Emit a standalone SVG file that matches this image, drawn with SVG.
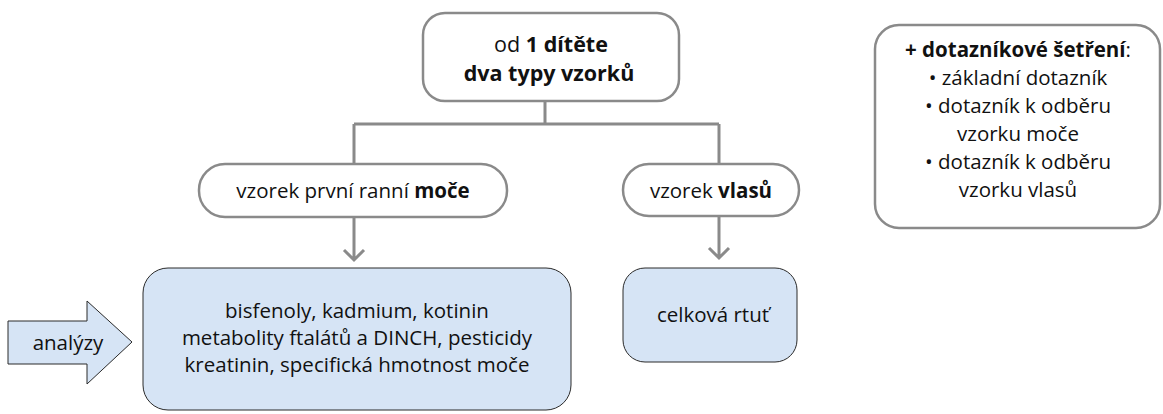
<svg xmlns="http://www.w3.org/2000/svg" width="1163" height="414" viewBox="0 0 1163 414">
<style>
.box{fill:#fff;stroke:#8a8a8a;stroke-width:2.5}
.blue{fill:#d6e4f5;stroke:#2a2a2a;stroke-width:1}
.conn{fill:none;stroke:#8a8a8a;stroke-width:3}
text{font-family:"Open Sans","Noto Sans","Liberation Sans",sans-serif;font-size:20.5px;fill:#111;text-anchor:middle}
.b{font-weight:bold}
.big{font-size:21.5px}
</style>
<rect width="1163" height="414" fill="#fff"/>
<g id="connectors">
<path class="conn" d="M545 101V124M354 124H719M354 124V164M719 124V164"/>
<path class="conn" d="M354 217V260M344 250L354 260L364 250"/>
<path class="conn" d="M719 216V258M709 248L719 258L729 248"/>
</g>
<g id="top">
<rect class="box" x="423" y="13" width="256" height="88" rx="22"/>
<text x="551" y="52" class="big">od <tspan class="b">1 dítěte</tspan></text>
<text x="549" y="81" class="big b">dva typy vzorků</text>
</g>
<g id="urine">
<rect class="box" x="199" y="164" width="308" height="53" rx="26"/>
<text x="353" y="198">vzorek první ranní <tspan class="b">moče</tspan></text>
</g>
<g id="hair">
<rect class="box" x="623" y="164" width="176" height="52" rx="26"/>
<text x="711" y="198">vzorek <tspan class="b">vlasů</tspan></text>
</g>
<g id="urine-analyses">
<rect class="blue" x="143" y="268" width="428" height="142" rx="25"/>
<text x="357" y="318">bisfenoly, kadmium, kotinin</text>
<text x="357" y="345">metabolity ftalátů a DINCH, pesticidy</text>
<text x="357" y="372">kreatinin, specifická hmotnost moče</text>
</g>
<g id="hair-analyses">
<rect class="blue" x="623" y="268" width="174" height="94" rx="22"/>
<text x="713" y="322">celková rtuť</text>
</g>
<g id="analyzy">
<path class="blue" d="M8 321H87V301L132 342L87 384V364H8Z"/>
<text x="68" y="350">analýzy</text>
</g>
<g id="questionnaire">
<rect class="box" x="875" y="25" width="285" height="203" rx="24"/>
<text x="1018" y="57"><tspan class="b">+ dotazníkové šetření</tspan>:</text>
<text x="1018" y="85">• základní dotazník</text>
<text x="1018" y="113">• dotazník k odběru</text>
<text x="1018" y="141">vzorku moče</text>
<text x="1018" y="169">• dotazník k odběru</text>
<text x="1018" y="197">vzorku vlasů</text>
</g>
</svg>
